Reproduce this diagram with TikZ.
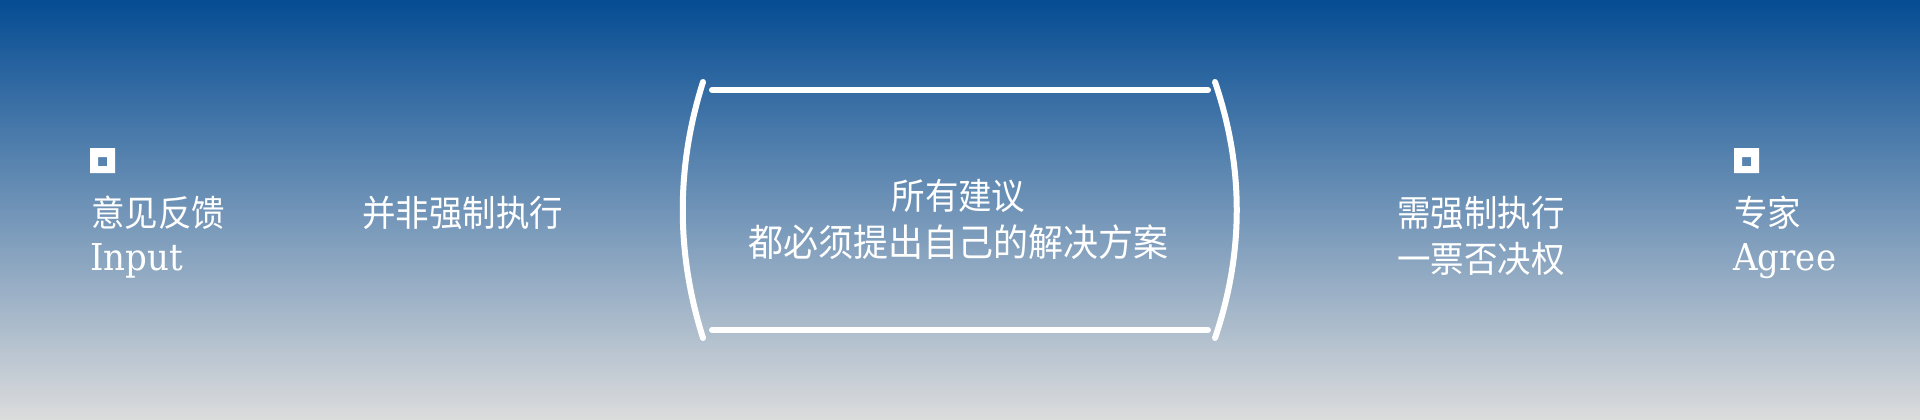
\documentclass[tikz,border=0pt]{standalone}
\usepackage{fontspec}
\setmainfont{DejaVu Serif}[FakeStretch=0.92]
\newfontfamily\cjk{Noto Sans CJK SC}[FakeStretch=0.93]
\definecolor{bgtop}{HTML}{054C93}
\definecolor{bgmid}{HTML}{6C93BA}
\definecolor{bgbot}{HTML}{DCDCDC}
\begin{document}
\begin{tikzpicture}[x=1pt,y=-1pt,
  cjktext/.style={text=white,inner sep=0pt,font=\cjk\fontsize{36}{45}\selectfont},
  cjkbig/.style={text=white,inner sep=0pt,font=\cjk\fontsize{37.6}{48}\selectfont},
  latintext/.style={text=white,inner sep=0pt,font=\fontsize{37}{45}\selectfont},
  frameline/.style={draw=white,line width=6pt,line cap=round},
  iconbox/.style={fill=white,even odd rule}]
\useasboundingbox (0,0) rectangle (1920,420);
\shade[top color=bgtop,middle color=bgmid,bottom color=bgbot] (0,0) rectangle (1920,420);
% left icon and labels
\fill[iconbox] (90,148) rectangle (115,173) (98,157) rectangle (107,166);
\node[cjktext,anchor=base west] (fb) at (91,226) {意见反馈};
\node[latintext,anchor=base west] (inp) at (90,270) {Input};
\node[cjktext,anchor=base west] (nf) at (362,226) {并非强制执行};
% center frame
\draw[frameline] (703,82) .. controls (676,167) and (676,253) .. (703,338);
\draw[frameline] (1215,82) .. controls (1244,167) and (1244,253) .. (1215,338);
\draw[frameline] (712,90) -- (1208,90);
\draw[frameline] (712,330) -- (1208,330);
\node[cjktext,anchor=base] (c1) at (958.5,209) {所有建议};
\node[cjkbig,anchor=base] (c2) at (958.5,256) {都必须提出自己的解决方案};
% right side
\node[cjktext,anchor=base west] (r1) at (1397,226) {需强制执行};
\node[cjktext,anchor=base west] (r2) at (1397,272) {一票否决权};
\fill[iconbox] (1734,148) rectangle (1759,173) (1742,157) rectangle (1751,166);
\node[cjktext,anchor=base west] (zj) at (1734,226) {专家};
\node[latintext,anchor=base west] (ag) at (1733,270) {Agree};
\end{tikzpicture}
\end{document}
